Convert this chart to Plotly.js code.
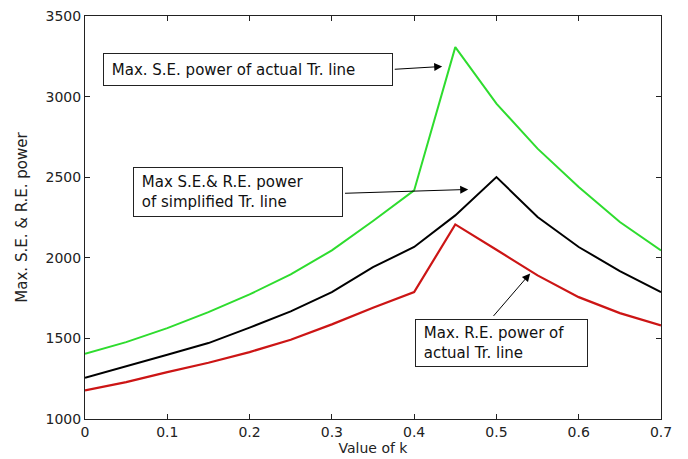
<!DOCTYPE html>
<html>
<head>
<meta charset="utf-8">
<script src="https://cdn.plot.ly/plotly-3.0.1.min.js"></script>
<style>html,body{margin:0;padding:0;background:#fff;}#chart{width:688px;height:459px;}</style>
</head>
<body>
<div id="chart"></div>
<script>
// k values
const kValues = [0, 0.05, 0.1, 0.15, 0.2, 0.25, 0.3, 0.35, 0.4, 0.45, 0.5, 0.55, 0.6, 0.65, 0.7];
// Max. S.E. power of actual Tr. line (green)
const seActual = [1405, 1477, 1564, 1663, 1773, 1897, 2046, 2228, 2418, 3307, 2956, 2677, 2439, 2222, 2046];
// Max S.E. & R.E. power of simplified Tr. line (black)
const simplified = [1256, 1326, 1399, 1471, 1567, 1668, 1787, 1942, 2067, 2263, 2501, 2253, 2067, 1918, 1787];
// Max. R.E. power of actual Tr. line (red)
const reActual = [1178, 1229, 1291, 1349, 1415, 1492, 1587, 1690, 1787, 2207, 2050, 1891, 1756, 1657, 1581];

const xTicks = [0, 0.1, 0.2, 0.3, 0.4, 0.5, 0.6, 0.7];
const xTickText = ['0', '0.1', '0.2', '0.3', '0.4', '0.5', '0.6', '0.7'];
const yTicks = [1000, 1500, 2000, 2500, 3000, 3500];

const labelSE = '&nbsp;Max. S.E. power of actual Tr. line';
const labelSimp = '&nbsp;Max S.E.&amp; R.E. power<br>&nbsp;of simplified Tr. line';
const labelRE = '&nbsp;Max. R.E. power of<br>&nbsp;actual Tr. line';

const FONT = 'DejaVu Sans, Liberation Sans, Arial, sans-serif';

const traces = [
  {x: kValues, y: seActual, mode: 'lines', line: {color: '#2edc2e', width: 2}},
  {x: kValues, y: simplified, mode: 'lines', line: {color: '#000000', width: 2}},
  {x: kValues, y: reActual, mode: 'lines', line: {color: '#cc1515', width: 2.2}}
];

function box(text, x, y, w, h) {
  return {text: text, xref: 'paper', yref: 'paper', x: x, y: y, xanchor: 'center', yanchor: 'middle',
    showarrow: false, align: 'left', width: w, height: h, bgcolor: '#ffffff', bordercolor: '#222',
    borderwidth: 1, borderpad: 3, font: {family: FONT, size: 15, color: '#111'}};
}
function arrow(tx, ty, hx, hy) {
  return {text: '', xref: 'x', yref: 'y', axref: 'x', ayref: 'y', x: hx, y: hy, ax: tx, ay: ty,
    showarrow: true, arrowhead: 2, arrowsize: 1.6, arrowwidth: 1, arrowcolor: '#000', standoff: 0, startstandoff: 0};
}

const layout = {
  width: 688, height: 459,
  margin: {l: 85, r: 27, t: 16, b: 40},
  paper_bgcolor: '#fff', plot_bgcolor: '#fff',
  showlegend: false,
  font: {family: FONT, color: '#222'},
  xaxis: {
    range: [0, 0.7], tickvals: xTicks, ticktext: xTickText,
    ticks: 'inside', ticklen: 5, tickcolor: '#222', showline: true, linecolor: '#222', linewidth: 1,
    mirror: 'ticks', showgrid: false, zeroline: false,
    tickfont: {family: FONT, size: 14, color: '#222'},
    title: {text: 'Value of k', font: {family: FONT, size: 14, color: '#222'}, standoff: 3}
  },
  yaxis: {
    range: [1000, 3500], tickvals: yTicks,
    ticks: 'inside', ticklen: 5, tickcolor: '#222', showline: true, linecolor: '#222', linewidth: 1,
    mirror: 'ticks', showgrid: false, zeroline: false,
    tickfont: {family: FONT, size: 14, color: '#222'},
    title: {text: 'Max. S.E. &amp; R.E. power', font: {family: FONT, size: 15, color: '#222'}, standoff: 14}
  },
  annotations: [
    box(labelSE, 0.2834, 0.8670, 282, 25),
    box(labelSimp, 0.2660, 0.5633, 202, 42),
    box(labelRE, 0.7232, 0.1876, 165, 40),
    arrow(0.3746, 3169, 0.4341, 3187),
    arrow(0.3142, 2400, 0.4657, 2424),
    arrow(0.4949, 1630, 0.5410, 1903)
  ]
};

Plotly.newPlot('chart', traces, layout, {staticPlot: true, displayModeBar: false});
</script>
</body>
</html>
